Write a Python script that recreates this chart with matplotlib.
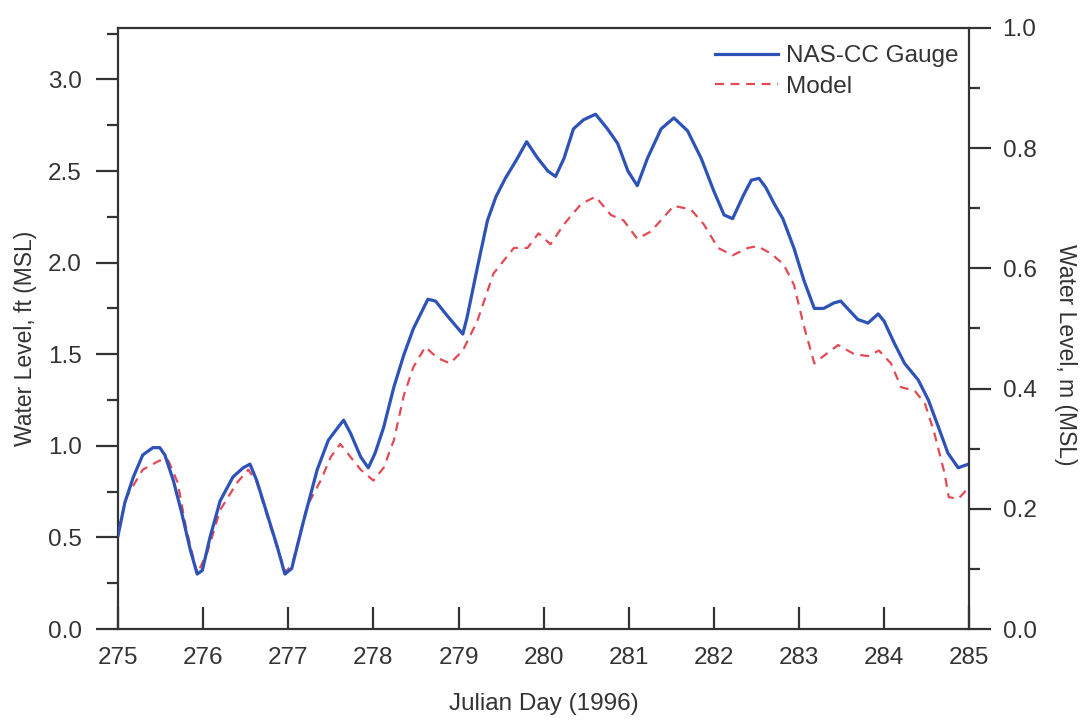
import matplotlib
matplotlib.use("Agg")
import matplotlib.pyplot as plt
from matplotlib.ticker import MultipleLocator

plt.rcParams['font.family'] = ['Liberation Sans', 'DejaVu Sans']

# NAS-CC gauge water level (ft, MSL) vs Julian day
gauge_day = [275.00, 275.08, 275.18, 275.29, 275.41, 275.49, 275.55, 275.65, 275.75, 275.85,
             275.93, 275.99, 276.08, 276.20, 276.35, 276.47, 276.55, 276.63, 276.75, 276.87,
             276.96, 277.04, 277.18, 277.34, 277.47, 277.55, 277.65, 277.73, 277.85, 277.94,
             278.02, 278.12, 278.24, 278.36, 278.47, 278.64, 278.73, 278.85, 278.94, 279.05,
             279.10, 279.22, 279.34, 279.44, 279.55, 279.68, 279.80, 279.93, 280.05, 280.14,
             280.24, 280.35, 280.47, 280.61, 280.75, 280.87, 280.99, 281.10, 281.22, 281.38,
             281.53, 281.69, 281.85, 282.00, 282.12, 282.22, 282.35, 282.44, 282.53, 282.61,
             282.71, 282.81, 282.94, 283.06, 283.18, 283.29, 283.41, 283.49, 283.57, 283.69,
             283.81, 283.93, 284.00, 284.12, 284.24, 284.40, 284.52, 284.64, 284.75, 284.87,
             284.99]
gauge_ft = [0.51, 0.69, 0.83, 0.95, 0.99, 0.99, 0.95, 0.81, 0.63, 0.43,
            0.30, 0.32, 0.50, 0.70, 0.83, 0.88, 0.90, 0.81, 0.63, 0.45,
            0.30, 0.33, 0.59, 0.87, 1.03, 1.08, 1.14, 1.07, 0.94, 0.88,
            0.96, 1.10, 1.32, 1.50, 1.64, 1.80, 1.79, 1.72, 1.67, 1.61,
            1.70, 1.97, 2.23, 2.36, 2.46, 2.56, 2.66, 2.57, 2.50, 2.47,
            2.57, 2.73, 2.78, 2.81, 2.73, 2.65, 2.50, 2.42, 2.57, 2.73,
            2.79, 2.72, 2.57, 2.39, 2.26, 2.24, 2.37, 2.45, 2.46, 2.41,
            2.32, 2.24, 2.08, 1.90, 1.75, 1.75, 1.78, 1.79, 1.75, 1.69,
            1.67, 1.72, 1.68, 1.56, 1.45, 1.36, 1.25, 1.10, 0.96, 0.88,
            0.90]

# Model water level (ft, MSL)
model_day = [275.00, 275.10, 275.29, 275.49, 275.59, 275.70, 275.80, 275.93, 276.05, 276.20,
             276.40, 276.53, 276.63, 276.75, 276.87, 276.97, 277.05, 277.22, 277.38, 277.50,
             277.61, 277.73, 277.85, 278.00, 278.12, 278.24, 278.36, 278.47, 278.61, 278.75,
             278.90, 279.05, 279.22, 279.41, 279.65, 279.81, 279.94, 280.08, 280.24, 280.44,
             280.61, 280.79, 280.94, 281.10, 281.26, 281.53, 281.73, 281.88, 282.05, 282.22,
             282.40, 282.51, 282.67, 282.82, 282.94, 283.06, 283.18, 283.26, 283.46, 283.65,
             283.81, 283.94, 284.08, 284.20, 284.36, 284.48, 284.59, 284.71, 284.76, 284.87,
             284.99]
model_ft = [0.54, 0.72, 0.87, 0.92, 0.92, 0.80, 0.55, 0.30, 0.42, 0.65,
            0.80, 0.87, 0.80, 0.62, 0.44, 0.31, 0.36, 0.67, 0.81, 0.94,
            1.01, 0.94, 0.87, 0.81, 0.88, 1.03, 1.28, 1.43, 1.54, 1.48,
            1.45, 1.52, 1.68, 1.94, 2.08, 2.08, 2.16, 2.10, 2.21, 2.32,
            2.36, 2.26, 2.23, 2.13, 2.17, 2.31, 2.29, 2.21, 2.08, 2.04,
            2.08, 2.09, 2.05, 1.99, 1.88, 1.65, 1.45, 1.48, 1.55, 1.50,
            1.49, 1.52, 1.45, 1.32, 1.30, 1.23, 1.07, 0.85, 0.72, 0.71,
            0.77]

x_ticks = [275, 276, 277, 278, 279, 280, 281, 282, 283, 284, 285]
FT_PER_M = 3.2808

axc = '#333333'
txt = '#333333'
fig = plt.figure(figsize=(10.85, 7.23), dpi=100)
ax = fig.add_axes([0.1088, 0.130, 0.7845, 0.8313])

ax.plot(gauge_day, gauge_ft, color='#2d52b8', lw=2.3, label='NAS-CC Gauge', zorder=3,
        solid_joinstyle='round')
ax.plot(model_day, model_ft, color='#e24a55', lw=1.6, ls=(0, (4, 3)), label='Model', zorder=2)

ax.set_xlim(275, 285)
ax.set_ylim(0, FT_PER_M)
ax.set_xticks(x_ticks)
ax.set_yticks([0.0, 0.5, 1.0, 1.5, 2.0, 2.5, 3.0])
ax.yaxis.set_minor_locator(MultipleLocator(0.25))
ax.set_yticklabels(['0.0', '0.5', '1.0', '1.5', '2.0', '2.5', '3.0'])

for s in ax.spines.values():
    s.set_color(axc)
    s.set_linewidth(1.6)
ax.spines['right'].set_visible(False)

ax.tick_params(axis='x', direction='in', length=16, width=1.6, color=axc,
               labelsize=17.5, labelcolor=txt, pad=13)
ax.tick_params(axis='y', which='major', direction='out', length=16, width=1.6, color=axc,
               labelsize=17.5, labelcolor=txt, pad=10)
ax.tick_params(axis='y', which='minor', direction='out', length=8, width=1.6, color=axc)

ax.set_xlabel('Julian Day (1996)', fontsize=17.5, color=txt, labelpad=17)
ax.set_ylabel('Water Level, ft (MSL)', fontsize=16.5, color=txt)
ax.yaxis.set_label_coords(-0.095, 0.484)

ax2 = ax.twinx()
ax2.set_ylim(0, 1.0)
ax2.set_yticks([0.0, 0.2, 0.4, 0.6, 0.8, 1.0])
ax2.set_yticklabels(['0.0', '0.2', '0.4', '0.6', '0.8', '1.0'])
ax2.yaxis.set_minor_locator(MultipleLocator(0.1))
for k, s in ax2.spines.items():
    s.set_visible(k == 'right')
    s.set_color(axc)
    s.set_linewidth(1.6)
ax2.tick_params(axis='y', which='major', direction='out', length=16, width=1.6, color=axc,
                labelsize=17.5, labelcolor=txt, pad=8)
ax2.tick_params(axis='y', which='minor', direction='out', length=8, width=1.6, color=axc)
ax2.set_ylabel('Water Level, m (MSL)', fontsize=16.5, color=txt, rotation=270)
ax2.yaxis.set_label_coords(1.127, 0.456)

leg = ax.legend(loc='upper right', frameon=False, fontsize=17.5, handlelength=2.6,
                handletextpad=0.3, labelspacing=0.35, borderaxespad=0.3,
                bbox_to_anchor=(1.007, 1.0))
for t in leg.get_texts():
    t.set_color(txt)

fig.savefig('out.png', dpi=100)
